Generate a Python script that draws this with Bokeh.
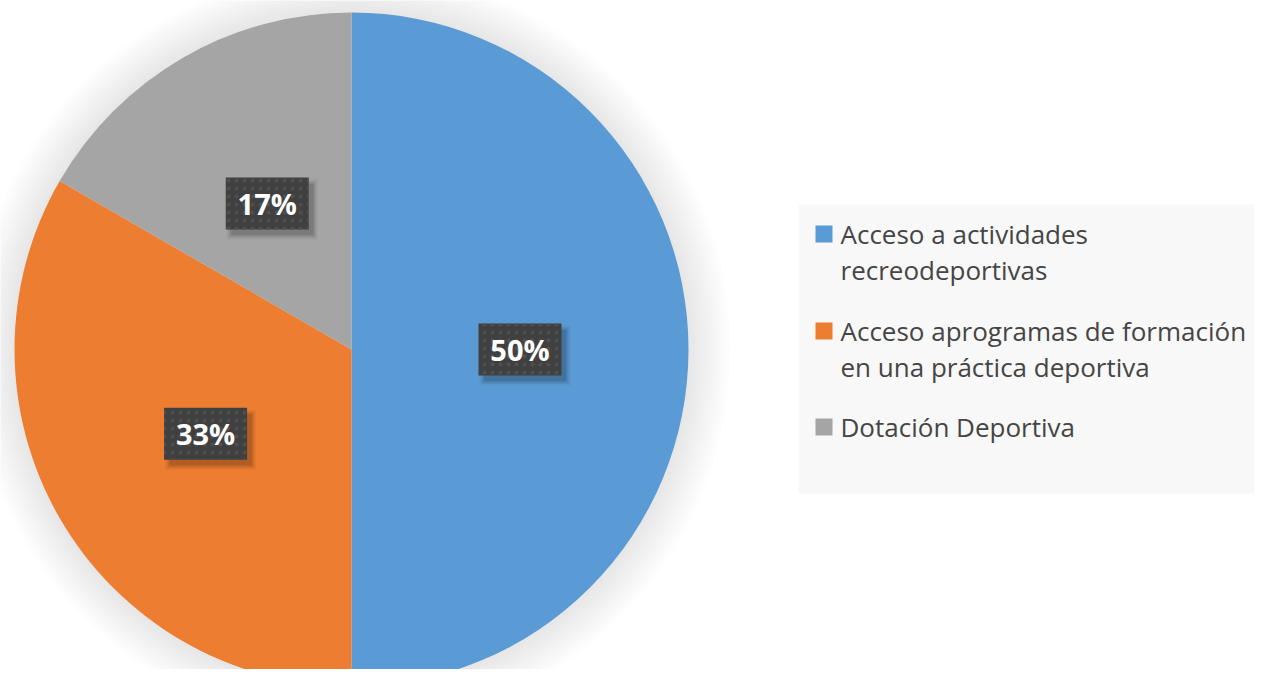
import math
from bokeh.plotting import figure
from bokeh.models import Range1d, ColumnDataSource
from bokeh.core.properties import value
from bokeh.embed import file_html
from bokeh.resources import INLINE

# ---- data ----
categories = ["Acceso a actividades recreodeportivas",
              "Acceso aprogramas de formación en una práctica deportiva",
              "Dotación Deportiva"]
legend_lines = [["Acceso a actividades", "recreodeportivas"],
                ["Acceso aprogramas de formación", "en una práctica deportiva"],
                ["Dotación Deportiva"]]
values = [3, 2, 1]
colors = ["#5B9BD5", "#ED7D31", "#A5A5A5"]

W, H = 1254, 669
FONT = "Open Sans"

p = figure(width=W, height=H, x_range=Range1d(0, W), y_range=Range1d(0, H),
           output_backend="svg", toolbar_location=None, min_border=0)
p.axis.visible = False
p.grid.visible = False
p.outline_line_color = None
p.background_fill_color = "white"
p.border_fill_color = "white"

# ---- pie ----
cx, cy, R = 351, 320, 337
total = float(sum(values))
starts, ends, mids = [], [], []
a = math.pi / 2
for v in values:
    b = a - 2 * math.pi * v / total
    starts.append(a)
    ends.append(b)
    mids.append((a + b) / 2)
    a = b

# soft outer glow shadow
for k in range(12, 0, -1):
    p.circle(x=[cx], y=[cy], radius=R + 3.5 * k, fill_color="black",
             fill_alpha=0.009, line_color=None)

src = ColumnDataSource(dict(start=starts, end=ends, color=colors, cat=categories))
p.wedge(x=cx, y=cy, radius=R, start_angle="start", end_angle="end",
        direction="clock", fill_color="color", line_color=None, source=src)

# ---- data labels ----
lx = [cx + 0.5 * R * math.cos(m) for m in mids]
ly = [cy + 0.5 * R * math.sin(m) for m in mids]
labels = [f"{round(100 * v / total)}%" for v in values]
bw, bh = 83, 52
for dx, dy, grow, al in [(5, -6, 8, 0.04), (5, -6, 5, 0.06), (5, -6, 2, 0.08), (5, -6, -1, 0.1)]:
    p.rect(x=[x + dx for x in lx], y=[y + dy for y in ly], width=bw + grow,
           height=bh + grow, fill_color="black", fill_alpha=al, line_color=None)
p.rect(x=lx, y=ly, width=bw, height=bh, fill_color="#404040", line_color=None,
       hatch_pattern="dot", hatch_color="#4f4f4f", hatch_scale=8, hatch_weight=1.5)
p.text(x=lx, y=ly, text=labels, text_align="center", text_baseline="middle",
       text_font=value(FONT), text_font_style="bold", text_font_size="29px",
       text_color="white")

# ---- legend ----
p.quad(left=[798], right=[W], bottom=[176], top=[465], fill_color="#F8F8F8",
       line_color=None)
item_tops = [444, 347, 251]
sq = 17
p.quad(left=[815] * 3, right=[815 + sq] * 3, top=item_tops,
       bottom=[t - sq for t in item_tops], fill_color=colors, line_color=None)
tx, ty, tt = [], [], []
for t, lines in zip(item_tops, legend_lines):
    for i, line in enumerate(lines):
        tx.append(840)
        ty.append(t - 8 - 36 * i)
        tt.append(line)
p.text(x=tx, y=ty, text=tt, text_align="left", text_baseline="alphabetic",
       text_font=value(FONT), text_font_size="26px", text_color="#454545")

open("out.html", "w").write(file_html(p, INLINE))
